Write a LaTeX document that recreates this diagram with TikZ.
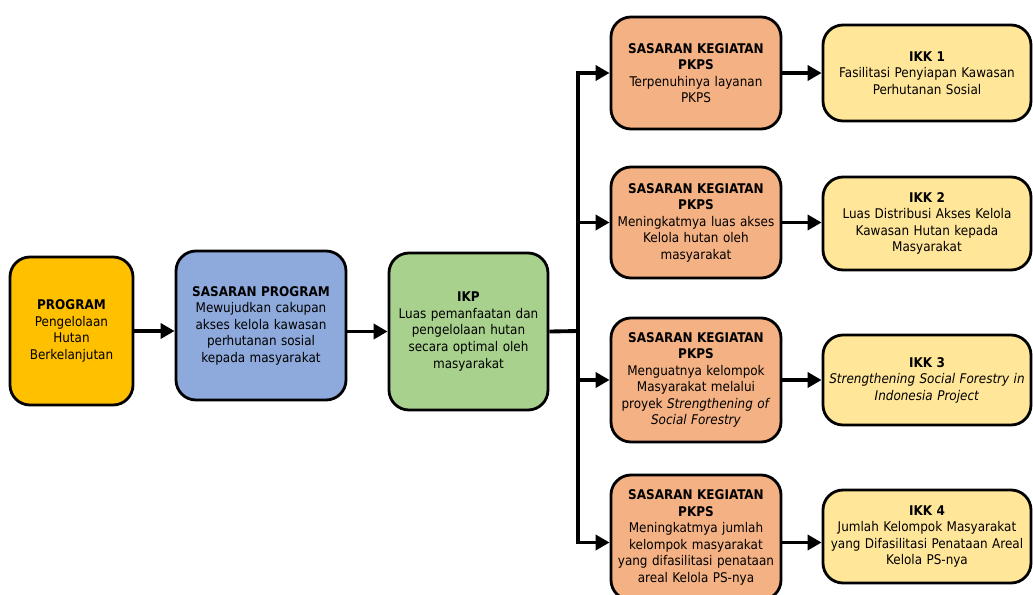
\documentclass[tikz,border=0pt]{standalone}
\usepackage{fontspec}
\setmainfont{DejaVu Sans Condensed}
\usepackage{xcolor}
\usetikzlibrary{arrows.meta}
\definecolor{progcol}{HTML}{FFC000}
\definecolor{sprogcol}{HTML}{8EA9DB}
\definecolor{ikpcol}{HTML}{A9D18E}
\definecolor{skcol}{HTML}{F4B183}
\definecolor{ikkcol}{HTML}{FFE699}
\tikzset{
	box/.style={draw=black, line width=1.6pt, rounded corners=0.4cm, align=center, inner sep=1pt, font=\fontsize{7.6}{9.4}\selectfont},
	skbox/.style={box, fill=skcol, minimum width=3.4cm, text width=3.3cm},
	ikkbox/.style={box, fill=ikkcol, minimum width=4.16cm, text width=4.0cm},
	conn/.style={line width=2.2pt, -{Triangle[length=0.28cm,width=0.3cm]}},
}

\begin{document}
\begin{tikzpicture}
			\useasboundingbox (0,0) rectangle (20.66,-11.88);
			\node[box, fill=progcol, minimum width=2.46cm, minimum height=2.96cm, text width=2.3cm] (prog) at (1.43,-6.62) {\textbf{PROGRAM}\\Pengelolaan\\Hutan\\Berkelanjutan};
			\node[box, fill=sprogcol, minimum width=3.4cm, minimum height=2.98cm, text width=3.3cm] (sprog) at (5.22,-6.51) {\textbf{SASARAN PROGRAM}\\Mewujudkan cakupan\\akses kelola kawasan\\perhutanan sosial\\kepada masyarakat};
			\node[box, fill=ikpcol, minimum width=3.18cm, minimum height=3.14cm, text width=3.1cm] (ikp) at (9.37,-6.63) {\textbf{IKP}\\Luas pemanfaatan dan\\pengelolaan hutan\\secara optimal oleh\\masyarakat};
			\coordinate (split) at (11.56,-6.62);
			\node[skbox, minimum height=2.24cm] (sk1) at (13.92,-1.46) {\textbf{SASARAN KEGIATAN}\\\textbf{PKPS}\\Terpenuhinya layanan\\PKPS};
			\node[skbox, minimum height=2.22cm] (sk2) at (13.92,-4.45) {\textbf{SASARAN KEGIATAN}\\\textbf{PKPS}\\Meningkatmya luas akses\\Kelola hutan oleh\\masyarakat};
			\node[skbox, minimum height=2.48cm] (sk3) at (13.92,-7.6) {\textbf{SASARAN KEGIATAN}\\\textbf{PKPS}\\Menguatnya kelompok\\Masyarakat melalui\\proyek \textit{Strengthening of}\\\textit{Social Forestry}};
			\node[skbox, minimum height=2.5cm] (sk4) at (13.92,-10.75) {\textbf{SASARAN KEGIATAN}\\\textbf{PKPS}\\Meningkatmya jumlah\\kelompok masyarakat\\yang difasilitasi penataan\\areal Kelola PS-nya};
			\node[ikkbox, minimum height=1.92cm] (ikk1) at (18.54,-1.46) {\textbf{IKK 1}\\Fasilitasi Penyiapan Kawasan\\Perhutanan Sosial};
			\node[ikkbox, minimum height=1.86cm] (ikk2) at (18.54,-4.47) {\textbf{IKK 2}\\Luas Distribusi Akses Kelola\\Kawasan Hutan kepada\\Masyarakat};
			\node[ikkbox, minimum height=1.8cm] (ikk3) at (18.54,-7.6) {\textbf{IKK 3}\\\textit{Strengthening Social Forestry in}\\\textit{Indonesia Project}};
			\node[ikkbox, minimum height=1.86cm] (ikk4) at (18.54,-10.73) {\textbf{IKK 4}\\Jumlah Kelompok Masyarakat\\yang Difasilitasi Penataan Areal\\Kelola PS-nya};
			\draw[conn] (prog.east) -- (prog.east -| sprog.west);
			\draw[conn] (sprog.east |- ikp.west) -- (ikp.west);
			\draw[line width=2.2pt] (ikp.east) -- (split);
			\draw[conn] (split) |- (sk1.west);
			\draw[conn] (split) |- (sk2.west);
			\draw[conn] (split) |- (sk3.west);
			\draw[conn] (split) |- ([yshift=-0.1cm]sk4.west);
			\draw[conn] (sk1.east) -- (ikk1.west);
			\draw[conn] (sk2.east) -- (sk2.east -| ikk2.west);
			\draw[conn] (sk3.east) -- (ikk3.west);
			\draw[conn] ([yshift=-0.1cm]sk4.east) -- ([yshift=-0.1cm]sk4.east -| ikk4.west);
		\end{tikzpicture}
\end{document}
